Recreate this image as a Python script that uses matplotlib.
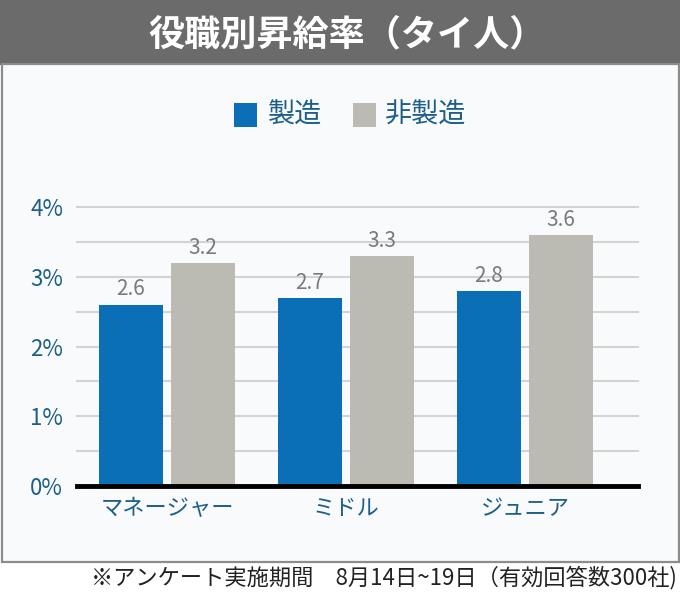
import matplotlib
matplotlib.use("Agg")
import matplotlib.pyplot as plt
from matplotlib.patches import Rectangle
import numpy as np

plt.rcParams['font.family'] = ['Noto Sans CJK JP', 'DejaVu Sans']

categories = ["マネージャー", "ミドル", "ジュニア"]
manufacturing = [2.6, 2.7, 2.8]
non_manufacturing = [3.2, 3.3, 3.6]
series_names = ["製造", "非製造"]
yticks = [0, 1, 2, 3, 4]
ytick_labels = ["0%", "1%", "2%", "3%", "4%"]
title = "役職別昇給率（タイ人）"
footnote = "※アンケート実施期間　8月14日~19日（有効回答数300社)"

W, H = 680, 593
fig = plt.figure(figsize=(W / 100, H / 100), dpi=100)

def fx(px):
    return px / W

def fy(py):
    return 1 - py / H

# header band
fig.patches.append(Rectangle((0, fy(65)), 1, 65 / H, transform=fig.transFigure,
                             facecolor="#6b6b6b", edgecolor="none", zorder=-2))
# panel
fig.patches.append(Rectangle((fx(1.5), fy(562)), fx(677), (562 - 64) / H, transform=fig.transFigure,
                             facecolor="#f8fafc", edgecolor="#8c8c8c", linewidth=1.6, zorder=-2))

fig.text(fx(347), fy(35), title, color="white", fontsize=26, fontweight="bold",
         ha="center", va="center")

ax = fig.add_axes([fx(77), fy(486), fx(561), 279 / H])
ax.set_zorder(2)
ax.set_facecolor("none")
x = np.arange(len(categories))
bw = 0.3575
off = 0.201
blue = "#0a6fb7"
gray = "#bcbbb3"
b1 = ax.bar(x - off, manufacturing, bw, color=blue, zorder=3, label=series_names[0])
b2 = ax.bar(x + off, non_manufacturing, bw, color=gray, zorder=3, label=series_names[1])

for bars, vals in ((b1, manufacturing), (b2, non_manufacturing)):
    for r, v in zip(bars, vals):
        ax.annotate(f"{v:.1f}", (r.get_x() + r.get_width() / 2, v), xytext=(0, 3),
                    textcoords="offset points", ha="center", va="bottom",
                    fontsize=15, color="#7a7a7a")

ax.set_xlim(-0.503, 2.631)
ax.set_ylim(0, 4)
for g in np.arange(0.5, 4.01, 0.5):
    ax.axhline(g, color="#d3d3d3", linewidth=1.5, zorder=1, clip_on=False)
ax.axhline(0, color="black", linewidth=3.5, zorder=4, clip_on=False)

for s in ax.spines.values():
    s.set_visible(False)
ax.set_yticks(yticks)
ax.set_yticklabels(ytick_labels)
ax.set_xticks(x)
ax.set_xticklabels(categories)
ax.tick_params(axis="both", length=0, labelsize=16, labelcolor="#1d5f88")
ax.tick_params(axis="y", pad=10)
ax.tick_params(axis="x", pad=8)

# legend
fig.patches.append(Rectangle((fx(234), fy(127)), fx(23), 24 / H, transform=fig.transFigure,
                             facecolor=blue, edgecolor="none"))
fig.text(fx(268), fy(115), series_names[0], fontsize=19.5, color="#1d5f88", ha="left", va="center")
fig.patches.append(Rectangle((fx(353), fy(127)), fx(23), 24 / H, transform=fig.transFigure,
                             facecolor=gray, edgecolor="none"))
fig.text(fx(385), fy(115), series_names[1], fontsize=19.5, color="#1d5f88", ha="left", va="center")

fig.text(fx(677), fy(578), footnote, fontsize=16, color="#222222", ha="right", va="center")

fig.savefig("out.png", dpi=100)
